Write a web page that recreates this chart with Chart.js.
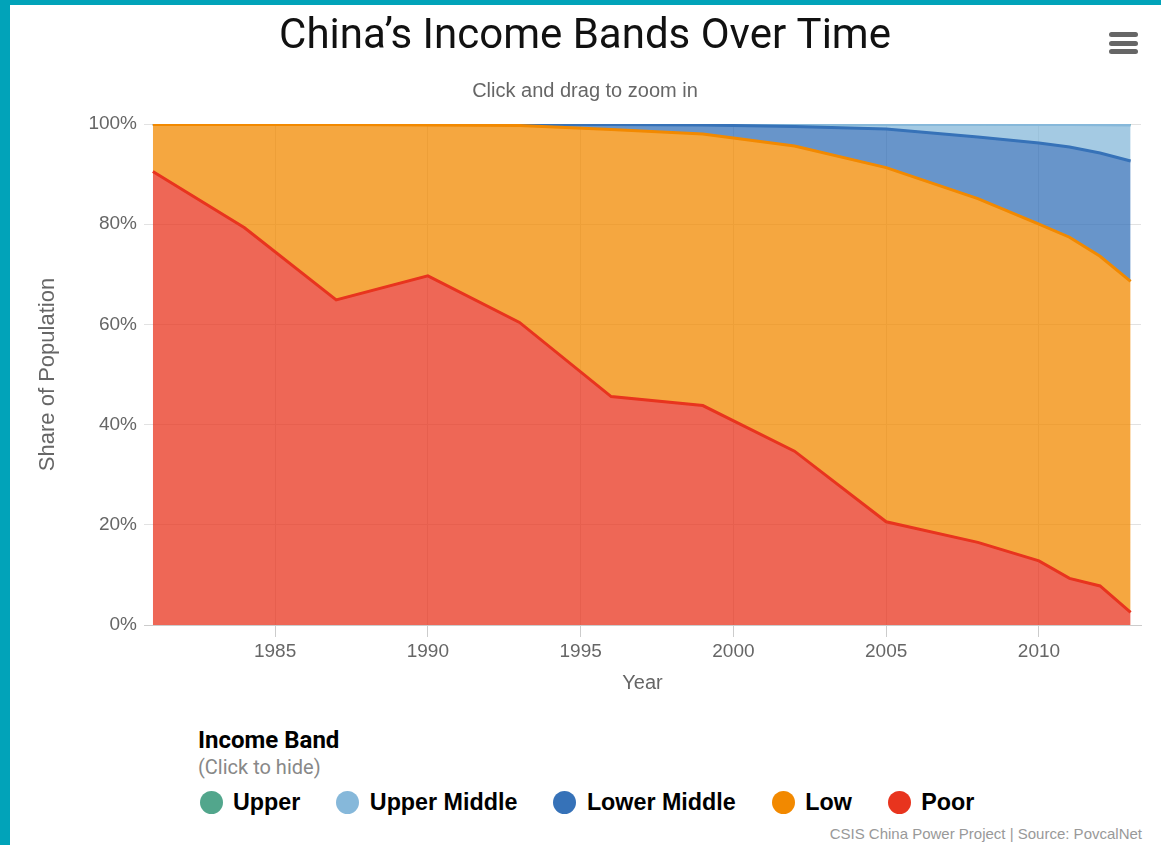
<!DOCTYPE html>
<html>
<head>
<meta charset="utf-8">
<title>China's Income Bands Over Time</title>
<script src="https://cdn.jsdelivr.net/npm/chart.js@4.4.0/dist/chart.umd.min.js"></script>
<style>
  html, body { margin: 0; padding: 0; }
  body { width: 1161px; height: 845px; background: #01a3b9; position: relative; overflow: hidden; }
  #frame { position: absolute; left: 10px; top: 5px; right: 0; bottom: 0; background: #fff; }
  #incomeChart { position: absolute; left: 0; top: 0; }
  #menu { position: absolute; left: 1109px; top: 32px; width: 29px; }
  #menu span { display: block; height: 5px; border-radius: 3px; background: #666; margin-bottom: 3.5px; }
  #legendTitle { position: absolute; left: 198px; top: 726px; font: bold 24px Roboto, sans-serif; line-height: 28px; color: #000; }
  #legendSub { position: absolute; left: 198px; top: 755px; font: 20px Roboto, sans-serif; line-height: 24px; color: #888; }
  #legend { position: absolute; left: 199.5px; top: 788px; height: 28px; display: flex; align-items: center; }
  #legend .item { display: flex; align-items: center; margin-right: 36px; cursor: pointer; }
  #legend .dot { width: 23px; height: 23px; border-radius: 50%; margin-right: 10.5px; }
  #legend .label { font: bold 23.3px "Liberation Sans", Arial, sans-serif; line-height: 28px; color: #000; }
  #legend .item.off .dot { background: #ccc !important; }
  #legend .item.off .label { color: #ccc; }
  #credits { position: absolute; right: 19px; top: 826px; font: 15px "Liberation Sans", Arial, sans-serif; line-height: 16px; color: #999; }
</style>
</head>
<body>
<div id="frame"></div>
<canvas id="incomeChart" width="1161" height="710"></canvas>
<div id="menu"><span></span><span></span><span></span></div>
<div id="legendTitle">Income Band</div>
<div id="legendSub">(Click to hide)</div>
<div id="legend"></div>
<div id="credits">CSIS China Power Project | Source: PovcalNet</div>
<script>
// survey years (PovcalNet)
var years = [1981, 1984, 1987, 1990, 1993, 1996, 1999, 2002, 2005, 2008, 2010, 2011, 2012, 2013];

// share of population in each band, %
var poor        = [90.5, 79.3, 64.9, 69.7, 60.4, 45.6, 43.8, 34.7, 20.6, 16.5, 12.8, 9.3, 7.8, 2.5];
var low         = [9.4, 20.6, 35.0, 30.1, 39.3, 53.3, 54.2, 60.9, 70.7, 68.6, 67.2, 68.1, 65.8, 66.1];
var lowerMiddle = [0.1, 0.1, 0.1, 0.15, 0.25, 1.0, 1.8, 3.9, 7.7, 12.3, 16.2, 18.0, 20.6, 24.0];
var upperMiddle = [0, 0, 0, 0.05, 0.05, 0.1, 0.2, 0.48, 0.95, 2.55, 3.7, 4.5, 5.65, 7.2];
var upper       = [0, 0, 0, 0, 0, 0, 0, 0.02, 0.05, 0.05, 0.1, 0.1, 0.15, 0.2];

var yearTicks = [1985, 1990, 1995, 2000, 2005, 2010];
var pctTicks = [0, 20, 40, 60, 80, 100];

function points(values) {
  return years.map(function (yr, i) { return { x: yr, y: values[i] }; });
}

function band(label, values, color, fill) {
  return {
    label: label,
    data: points(values),
    borderColor: color,
    backgroundColor: color.replace('rgb(', 'rgba(').replace(')', ',0.75)'),
    borderWidth: 3,
    pointRadius: 0,
    tension: 0,
    clip: 0,
    fill: fill
  };
}

document.addEventListener('DOMContentLoaded', () => {

  var ctx = document.getElementById('incomeChart').getContext('2d');
  var chart = new Chart(ctx, {
    type: 'line',
    data: {
      datasets: [
        band('Poor', poor, 'rgb(232,52,30)', 'origin'),
        band('Low', low, 'rgb(242,137,0)', '-1'),
        band('Lower Middle', lowerMiddle, 'rgb(54,114,184)', '-1'),
        band('Upper Middle', upperMiddle, 'rgb(134,184,218)', '-1'),
        band('Upper', upper, 'rgb(82,166,140)', '-1')
      ]
    },
    options: {
      responsive: false,
      animation: false,
      events: [],
      layout: {
        padding: { left: 29, right: 20, top: 0, bottom: 0 }
      },
      plugins: {
        legend: { display: false },
        tooltip: { enabled: false },
        title: {
          display: true,
          text: 'China\u2019s Income Bands Over Time',
          color: '#111',
          font: { family: 'Roboto', size: 42, weight: 'normal' },
          padding: { top: 12, bottom: 17 }
        },
        subtitle: {
          display: true,
          text: 'Click and drag to zoom in',
          color: '#666',
          font: { family: '"Liberation Sans", Arial', size: 20 },
          padding: { top: 0, bottom: 20.6 }
        }
      },
      scales: {
        x: {
          type: 'linear',
          min: 1980.71,
          max: 2013.34,
          afterBuildTicks: function (scale) {
            scale.ticks = yearTicks.map(function (v) { return { value: v }; });
          },
          afterFit: function (scale) { scale.height = 85; },
          ticks: {
            color: '#666',
            font: { family: '"Liberation Sans", Arial', size: 19 },
            padding: 3,
            maxRotation: 0,
            callback: function (v) { return String(v); }
          },
          grid: { color: '#dedede', tickColor: '#ccc', tickLength: 12 },
          border: { display: true, color: '#ccc' },
          title: {
            display: true,
            text: 'Year',
            color: '#666',
            font: { family: '"Liberation Sans", Arial', size: 20 },
            padding: { top: 0, bottom: 15 }
          }
        },
        y: {
          stacked: true,
          min: 0,
          max: 100,
          afterBuildTicks: function (scale) {
            scale.ticks = pctTicks.map(function (v) { return { value: v }; });
          },
          afterFit: function (scale) { scale.width = 115; },
          ticks: {
            color: '#666',
            font: { family: '"Liberation Sans", Arial', size: 19 },
            padding: 7,
            callback: function (v) { return v + '%'; }
          },
          grid: { color: '#e2e2e2', drawTicks: false },
          border: { display: false },
          title: {
            display: true,
            text: 'Share of Population',
            color: '#666',
            font: { family: '"Liberation Sans", Arial', size: 22 },
            padding: { top: 6 }
          }
        }
      }
    }
  });

  // legend built from the datasets, top band first
  var legend = document.getElementById('legend');
  chart.data.datasets.slice().reverse().forEach(function (ds) {
    var idx = chart.data.datasets.indexOf(ds);
    var item = document.createElement('div');
    item.className = 'item';
    item.innerHTML = '<span class="dot" style="background:' + ds.borderColor + '"></span><span class="label">' + ds.label + '</span>';
    item.addEventListener('click', function () {
      var visible = chart.isDatasetVisible(idx);
      chart.setDatasetVisibility(idx, !visible);
      item.classList.toggle('off', visible);
      chart.update();
    });
    legend.appendChild(item);
  });
});
</script>
</body>
</html>
